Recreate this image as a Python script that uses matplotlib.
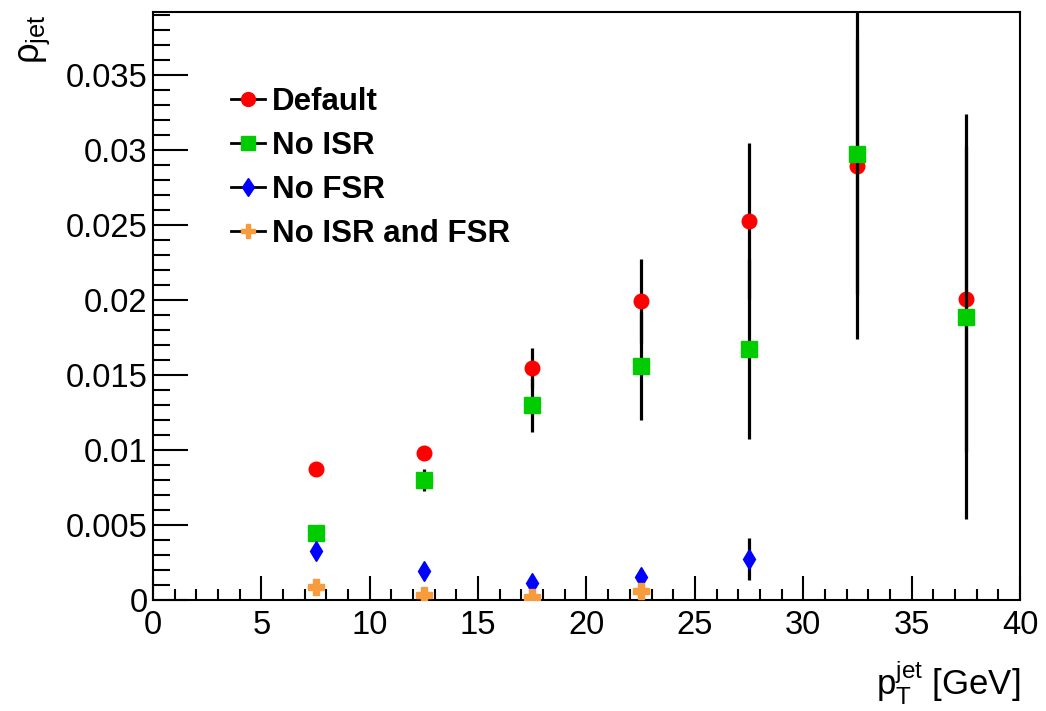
import numpy as np
import matplotlib
matplotlib.use("Agg")
import matplotlib.pyplot as plt
from matplotlib.lines import Line2D
from matplotlib.ticker import MultipleLocator, FuncFormatter

plt.rcParams['font.family'] = ['Liberation Sans', 'DejaVu Sans']
plt.rcParams['mathtext.fontset'] = 'custom'
plt.rcParams['mathtext.rm'] = 'Liberation Sans'
plt.rcParams['mathtext.it'] = 'Liberation Sans'

# bin centres (GeV)
pt = [7.5, 12.5, 17.5, 22.5, 27.5, 32.5, 37.5]

default_y = [0.00873, 0.0098, 0.01547, 0.01993, 0.02527, 0.02893, 0.0201]
default_err = [0.0, 0.0, 0.00133, 0.0028, 0.0052, 0.0085, 0.0102]

noisr_y = [0.00447, 0.0080, 0.0130, 0.0156, 0.01673, 0.02973, 0.01887]
noisr_err = [0.0, 0.00075, 0.0018, 0.0036, 0.006, 0.0123, 0.0135]

pt_fsr = [7.5, 12.5, 17.5, 22.5, 27.5]
nofsr_y = [0.00329, 0.00193, 0.00111, 0.00151, 0.00275]
nofsr_err = [0.0, 0.0, 0.0, 0.00056, 0.0014]

pt_both = [7.5, 12.5, 17.5, 22.5]
noboth_y = [0.00089, 0.00033, 0.00022, 0.0006]
noboth_err = [0.0, 0.0, 0.0, 0.0]

labels = ["Default", "No ISR", "No FSR", "No ISR and FSR"]

fig = plt.figure(figsize=(10.46, 7.11), dpi=100)
ax = fig.add_axes([0.1463, 0.1561, 0.8288, 0.8270])

series = [
    (pt, default_y, default_err, 'o', '#ff0000', 10.5),
    (pt, noisr_y, noisr_err, 's', '#00cc00', 11),
    (pt_fsr, nofsr_y, nofsr_err, 'd', '#0000ff', 10),
    (pt_both, noboth_y, noboth_err, 'P', '#f89b3c', 11),
]

handles = []
for i, (x, y, e, m, c, ms) in enumerate(series):
    ax.errorbar(x, y, yerr=e, fmt=m, color=c, mec=c, mfc=c, ms=ms,
                ecolor='black', elinewidth=2.3, capsize=0, zorder=3 + i)
    handles.append(Line2D([], [], color='black', lw=2.0, marker=m,
                          mfc=c, mec=c, ms=ms * 0.95))

ax.set_xlim(0, 40)
ax.set_ylim(0, 0.0392)

ax.xaxis.set_major_locator(MultipleLocator(5))
ax.xaxis.set_minor_locator(MultipleLocator(1))
ax.yaxis.set_major_locator(MultipleLocator(0.005))
ax.yaxis.set_minor_locator(MultipleLocator(0.001))
ax.yaxis.set_major_formatter(FuncFormatter(lambda v, p: '%g' % round(v, 4)))

ax.tick_params(axis='both', which='both', direction='in', labelsize=23.5,
               width=1.5, top=False, right=False)
ax.tick_params(axis='x', which='major', length=17, pad=7)
ax.tick_params(axis='x', which='minor', length=8)
ax.tick_params(axis='y', which='major', length=25, pad=4)
ax.tick_params(axis='y', which='minor', length=12)
for s in ax.spines.values():
    s.set_linewidth(1.5)

ax.set_ylabel(r'$\mathregular{\rho_{jet}}$', fontsize=26, loc='top')
ax.yaxis.set_label_coords(-0.117, 0.995)
ax.set_xlabel(r'$\mathregular{p_{T}^{jet}}$ [GeV]', fontsize=25, loc='right')
ax.xaxis.set_label_coords(1.0, -0.1)

ax.legend(handles, labels, loc='upper left', bbox_to_anchor=(0.057, 0.921),
          frameon=False, prop={'weight': 'bold', 'size': 22.5},
          handlelength=1.1, handletextpad=0.22, labelspacing=0.45)

fig.savefig("out.png", dpi=100)
